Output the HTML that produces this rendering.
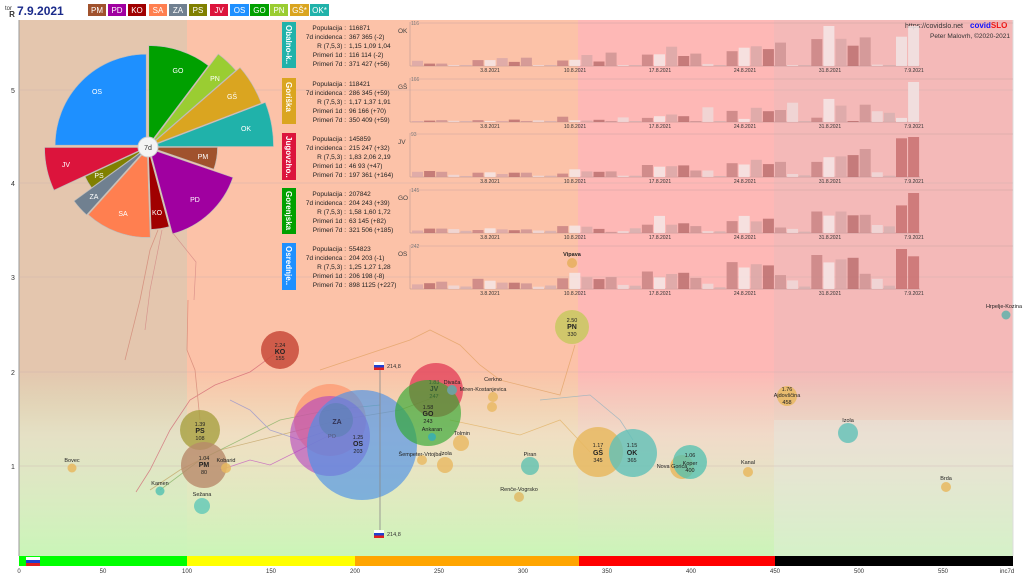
<!DOCTYPE html>
<html><head><meta charset="utf-8"><style>
html,body{margin:0;padding:0;background:#fff;width:1024px;height:576px;overflow:hidden}
svg{display:block;font-family:"Liberation Sans",sans-serif}
</style></head><body>
<svg id="s" width="1024" height="576" viewBox="0 0 1024 576" xmlns="http://www.w3.org/2000/svg">
<defs>
<linearGradient id="gr" x1="0" y1="0" x2="0" y2="1">
<stop offset="0" stop-color="#d8fcc8" stop-opacity="0"/>
<stop offset="0.35" stop-color="#e6f6d8" stop-opacity="0.55"/>
<stop offset="1" stop-color="#c8f8b8" stop-opacity="0.95"/>
</linearGradient>
</defs>
<rect x="0" y="0" width="1024" height="576" fill="#fff"/>
<rect x="19" y="20" width="168" height="536" fill="#e4c6ae"/>
<rect x="187" y="20" width="391" height="536" fill="#fcc2a8"/>
<rect x="578" y="20" width="196" height="536" fill="#feb8b6"/>
<rect x="774" y="20" width="239" height="536" fill="#f4b9b8"/>
<rect x="19" y="370" width="994" height="186" fill="url(#gr)"/>
<rect x="774" y="420" width="239" height="136" fill="#e8ece4" opacity="0.35"/>
<line x1="19" y1="20" x2="19" y2="556" stroke="#999" stroke-width="1"/>
<line x1="1013" y1="20" x2="1013" y2="556" stroke="#ddd"/>
<g stroke="#c8b0b0" stroke-width="0.6" opacity="0.7">
<line x1="19" y1="90" x2="1013" y2="90"/><line x1="19" y1="183" x2="1013" y2="183"/>
<line x1="19" y1="277" x2="1013" y2="277"/><line x1="19" y1="372" x2="1013" y2="372"/>
<line x1="19" y1="466" x2="1013" y2="466"/>
</g>
<g font-size="7" fill="#333" text-anchor="middle">
<text x="12" y="17" font-size="8" font-weight="bold">R</text>
<text x="13" y="93">5</text><text x="13" y="186">4</text><text x="13" y="280">3</text><text x="13" y="375">2</text><text x="13" y="469">1</text>
</g>
<text x="5" y="10" font-size="6" fill="#333">tor</text>
<text x="17" y="15" font-size="12" font-weight="bold" fill="#1a2a8a">7.9.2021</text>
<g font-size="8" fill="#fff" text-anchor="middle">
<rect x="88" y="4" width="18" height="12" fill="#a0522d"/><text x="97" y="13">PM</text>
<rect x="108" y="4" width="18" height="12" fill="#a000a0"/><text x="117" y="13">PD</text>
<rect x="128" y="4" width="18" height="12" fill="#a00000"/><text x="137" y="13">KO</text>
<rect x="149" y="4" width="18" height="12" fill="#ff7f50"/><text x="158" y="13">SA</text>
<rect x="169" y="4" width="18" height="12" fill="#708090"/><text x="178" y="13">ZA</text>
<rect x="189" y="4" width="18" height="12" fill="#808000"/><text x="198" y="13">PS</text>
<rect x="210" y="4" width="18" height="12" fill="#dc143c"/><text x="219" y="13">JV</text>
<rect x="230" y="4" width="19" height="12" fill="#1e90ff"/><text x="239.5" y="13">OS</text>
<rect x="250" y="4" width="19" height="12" fill="#00a000"/><text x="259.5" y="13">GO</text>
<rect x="270" y="4" width="18" height="12" fill="#9acd32"/><text x="279" y="13">PN</text>
<rect x="290" y="4" width="19" height="12" fill="#daa520"/><text x="299.5" y="13">GŠ*</text>
<rect x="310" y="4" width="19" height="12" fill="#20b2aa"/><text x="319.5" y="13">OK*</text>
</g>
<text x="905" y="28" font-size="7" fill="#333">https://covidslo.net</text>
<text x="970" y="28" font-size="8" font-weight="bold" fill="#1010ff">covid<tspan fill="#f01010">SLO</tspan></text>
<text x="1010" y="38" font-size="6.5" fill="#333" text-anchor="end">Peter Malovrh, ©2020-2021</text>

<g fill="none" stroke-width="0.8" opacity="0.7">
<polyline stroke="#d06070" points="136,492 150,470 170,430 190,400 215,385 250,372 280,350"/>
<polyline stroke="#d08070" points="125,360 140,300 150,250 158,230"/>
<polyline stroke="#d08070" points="188,300 187,350 195,370 200,420"/>
<polyline stroke="#c0a060" points="150,490 180,470 220,450 260,440 300,430 340,420 400,410 440,395"/>
<polyline stroke="#80b060" points="160,490 200,460 240,440 280,420 330,410 380,405"/>
<polyline stroke="#9090d0" points="230,400 250,410 270,430 300,440 330,430"/>
<polyline stroke="#c050c0" points="220,470 250,460 270,465 300,450 330,435"/>
<polyline stroke="#e0a060" points="320,370 410,340 430,330 460,345 480,365 500,380 560,395 575,345"/>
<polyline stroke="#8ab0c0" points="540,400 590,395 620,420 633,440"/>
<polyline stroke="#e0b060" points="450,420 520,435 560,420 590,452"/>
</g>

<g>
<circle cx="280" cy="350" r="19" fill="#c84a3a" opacity="0.85"/>
<circle cx="572" cy="327" r="17" fill="#c8c860" opacity="0.85"/>
<circle cx="572" cy="263" r="5" fill="#e8b060" opacity="0.9"/>
<circle cx="1006" cy="315" r="4.5" fill="#40b0a8" opacity="0.7"/>
<circle cx="330" cy="420" r="36" fill="#ff8c60" opacity="0.6"/>
<circle cx="330" cy="436" r="40" fill="#b040c0" opacity="0.6"/>
<circle cx="362" cy="445" r="55" fill="#4a90e8" opacity="0.65"/>
<circle cx="336" cy="420" r="17" fill="#5a80b0" opacity="0.6"/>
<circle cx="436" cy="390" r="27" fill="#e03050" opacity="0.7"/>
<circle cx="428" cy="413" r="33" fill="#30a830" opacity="0.65"/>
<circle cx="452" cy="390" r="5" fill="#70a0a0"/>
<circle cx="432" cy="437" r="4" fill="#40b0a8"/>
<circle cx="493" cy="397" r="5" fill="#e8b860" opacity="0.8"/>
<circle cx="492" cy="407" r="5" fill="#e8b860" opacity="0.8"/>
<circle cx="461" cy="443" r="8" fill="#e8b860" opacity="0.8"/>
<circle cx="422" cy="460" r="5" fill="#e8b860" opacity="0.8"/>
<circle cx="445" cy="465" r="8" fill="#e8b860" opacity="0.8"/>
<circle cx="530" cy="466" r="9" fill="#60c0b0" opacity="0.8"/>
<circle cx="519" cy="497" r="5" fill="#e0b860" opacity="0.8"/>
<circle cx="200" cy="430" r="20" fill="#a8a040" opacity="0.8"/>
<circle cx="204" cy="465" r="23" fill="#b88a6a" opacity="0.8"/>
<circle cx="226" cy="468" r="5" fill="#e8b860" opacity="0.85"/>
<circle cx="72" cy="468" r="4.5" fill="#e8b860" opacity="0.85"/>
<circle cx="160" cy="491" r="4.5" fill="#50c0b0" opacity="0.8"/>
<circle cx="202" cy="506" r="8" fill="#60c8b8" opacity="0.8"/>
<circle cx="598" cy="452" r="25" fill="#e8b860" opacity="0.85"/>
<circle cx="633" cy="453" r="24" fill="#60c0b8" opacity="0.8"/>
<circle cx="682" cy="467" r="12" fill="#e8b860" opacity="0.85"/>
<circle cx="690" cy="462" r="17" fill="#50c0b0" opacity="0.75"/>
<circle cx="748" cy="472" r="5" fill="#e8b860" opacity="0.85"/>
<circle cx="787" cy="396" r="10" fill="#e8b860" opacity="0.85"/>
<circle cx="848" cy="433" r="10" fill="#60c0b8" opacity="0.8"/>
<circle cx="946" cy="487" r="5" fill="#e8b860" opacity="0.85"/>
</g>
<line x1="380" y1="366" x2="380" y2="533" stroke="#888" stroke-width="0.8"/>
<rect x="374" y="362" width="10" height="3" fill="#fff"/><rect x="374" y="365" width="10" height="2.5" fill="#2040d0"/><rect x="374" y="367.5" width="10" height="2.5" fill="#e02020"/>
<rect x="374" y="530" width="10" height="3" fill="#fff"/><rect x="374" y="533" width="10" height="2.5" fill="#2040d0"/><rect x="374" y="535.5" width="10" height="2.5" fill="#e02020"/>
<g font-size="5.5" fill="#333">
<text x="387" y="368">214,8</text><text x="387" y="536">214,8</text>
</g>
<g font-size="5.5" fill="#222" text-anchor="middle">
<text x="280" y="347">2.24</text><text x="280" y="354" font-size="7" font-weight="bold">KO</text><text x="280" y="360">155</text>
<text x="572" y="322">2.50</text><text x="572" y="329" font-size="7" font-weight="bold">PN</text><text x="572" y="336">330</text>
<text x="572" y="256" font-weight="bold">Vipava</text>
<text x="200" y="426">1.39</text><text x="200" y="433" font-size="7" font-weight="bold">PS</text><text x="200" y="440">108</text>
<text x="204" y="460">1.04</text><text x="204" y="467" font-size="7" font-weight="bold">PM</text><text x="204" y="474">80</text>
<text x="598" y="447">1.17</text><text x="598" y="455" font-size="7" font-weight="bold">GŠ</text><text x="598" y="462">345</text>
<text x="632" y="447">1.15</text><text x="632" y="455" font-size="7" font-weight="bold">OK</text><text x="632" y="462">365</text>
<text x="690" y="457">1.06</text><text x="690" y="465">Koper</text><text x="690" y="472">400</text>
<text x="672" y="468">Nova Gorica</text>
<text x="337" y="424" font-size="7" font-weight="bold" fill="#335">ZA</text><text x="332" y="438" fill="#557">PO</text>
<text x="358" y="439">1.25</text><text x="358" y="446" font-size="7" font-weight="bold">OS</text><text x="358" y="453">203</text>
<text x="434" y="384" fill="#363">1.83</text><text x="434" y="391" font-size="7" font-weight="bold" fill="#353">JV</text><text x="434" y="398" fill="#363">247</text>
<text x="428" y="409">1.58</text><text x="428" y="416" font-size="7" font-weight="bold">GO</text><text x="428" y="423">243</text>
<text x="452" y="384">Divača</text><text x="493" y="381">Cerkno</text><text x="483" y="391">Miren-Kostanjevica</text>
<text x="432" y="431">Ankaran</text><text x="462" y="435">Tolmin</text><text x="420" y="456">Šempeter-Vrtojba</text><text x="446" y="455">Izola</text>
<text x="530" y="456">Piran</text><text x="519" y="491">Renče-Vogrsko</text>
<text x="787" y="391">1.76</text><text x="787" y="397">Ajdovščina</text><text x="787" y="404">458</text>
<text x="848" y="422">Izola</text><text x="748" y="464">Kanal</text><text x="946" y="480">Brda</text>
<text x="1004" y="308">Hrpelje-Kozina</text>
<text x="72" y="462">Bovec</text><text x="226" y="462">Kobarid</text><text x="160" y="485">Kamen</text><text x="202" y="496">Sežana</text>
</g>

<g id="pie" stroke="#bbb" stroke-width="0.6"></g>
<circle cx="148" cy="147" r="10" fill="#f4f4f4" stroke="#ccc"/>
<text x="148" y="150" font-size="7" text-anchor="middle" fill="#333">7d</text>
<g font-size="7" fill="#fff" text-anchor="middle">
<text x="97" y="94">OS</text><text x="178" y="73">GO</text><text x="215" y="81">PN</text><text x="232" y="99">GŠ</text>
<text x="246" y="131">OK</text><text x="203" y="159">PM</text><text x="195" y="202">PD</text><text x="157" y="215">KO</text>
<text x="123" y="216">SA</text><text x="94" y="199">ZA</text><text x="99" y="178">PS</text><text x="66" y="167">JV</text>
</g>
<g fill="none" stroke="#d08080" stroke-width="0.7" opacity="0.7">
<polyline points="162,230 150,290 145,330"/><polyline points="172,232 196,262 194,300"/>
</g>

<g font-size="8" fill="#fff" font-weight="bold">
<rect x="282" y="22" width="14" height="46" fill="#20b2aa"/><text transform="translate(286,25) rotate(90)">Obalno-k..</text>
<rect x="282" y="78" width="14" height="46" fill="#daa520"/><text transform="translate(286,82) rotate(90)">Goriška</text>
<rect x="282" y="133" width="14" height="47" fill="#dc143c"/><text transform="translate(286,136) rotate(90)">Jugovzho..</text>
<rect x="282" y="188" width="14" height="46" fill="#00a000"/><text transform="translate(286,191) rotate(90)">Gorenjska</text>
<rect x="282" y="243" width="14" height="47" fill="#1e90ff"/><text transform="translate(286,246) rotate(90)">Osrednje..</text>
</g>
<g font-size="6.5" fill="#222">
<g text-anchor="end">
<text x="346" y="30">Populacija :</text><text x="346" y="39">7d incidenca :</text><text x="346" y="48">R (7,5,3) :</text><text x="346" y="57">Primeri 1d :</text><text x="346" y="66">Primeri 7d :</text>
<text x="346" y="86">Populacija :</text><text x="346" y="95">7d incidenca :</text><text x="346" y="104">R (7,5,3) :</text><text x="346" y="113">Primeri 1d :</text><text x="346" y="122">Primeri 7d :</text>
<text x="346" y="141">Populacija :</text><text x="346" y="150">7d incidenca :</text><text x="346" y="159">R (7,5,3) :</text><text x="346" y="168">Primeri 1d :</text><text x="346" y="177">Primeri 7d :</text>
<text x="346" y="196">Populacija :</text><text x="346" y="205">7d incidenca :</text><text x="346" y="214">R (7,5,3) :</text><text x="346" y="223">Primeri 1d :</text><text x="346" y="232">Primeri 7d :</text>
<text x="346" y="251">Populacija :</text><text x="346" y="260">7d incidenca :</text><text x="346" y="269">R (7,5,3) :</text><text x="346" y="278">Primeri 1d :</text><text x="346" y="287">Primeri 7d :</text>
</g>
<text x="349" y="30">116871</text><text x="349" y="39">367 365 (-2)</text><text x="349" y="48">1,15 1,09 1,04</text><text x="349" y="57">116 114 (-2)</text><text x="349" y="66">371 427 (+56)</text>
<text x="349" y="86">118421</text><text x="349" y="95">286 345 (+59)</text><text x="349" y="104">1,17 1,37 1,91</text><text x="349" y="113">96 166 (+70)</text><text x="349" y="122">350 409 (+59)</text>
<text x="349" y="141">145859</text><text x="349" y="150">215 247 (+32)</text><text x="349" y="159">1,83 2,06 2,19</text><text x="349" y="168">46 93 (+47)</text><text x="349" y="177">197 361 (+164)</text>
<text x="349" y="196">207842</text><text x="349" y="205">204 243 (+39)</text><text x="349" y="214">1,58 1,60 1,72</text><text x="349" y="223">63 145 (+82)</text><text x="349" y="232">321 506 (+185)</text>
<text x="349" y="251">554823</text><text x="349" y="260">204 203 (-1)</text><text x="349" y="269">1,25 1,27 1,28</text><text x="349" y="278">206 198 (-8)</text><text x="349" y="287">898 1125 (+227)</text>
</g>
<g font-size="6.5" fill="#444">
<text x="398" y="33">OK</text><text x="398" y="89">GŠ</text><text x="398" y="144">JV</text><text x="398" y="200">GO</text><text x="398" y="256">OS</text>
</g>
<g font-size="5" fill="#777">
<text x="411" y="25">116</text><text x="411" y="81">166</text><text x="411" y="136">93</text><text x="411" y="192">145</text><text x="411" y="248">242</text>
</g>
<g id="bars"></g>
<g font-size="5" fill="#333" text-anchor="middle">
<text x="490" y="72">3.8.2021</text><text x="575" y="72">10.8.2021</text><text x="660" y="72">17.8.2021</text><text x="745" y="72">24.8.2021</text><text x="830" y="72">31.8.2021</text><text x="914" y="72">7.9.2021</text>
<text x="490" y="128">3.8.2021</text><text x="575" y="128">10.8.2021</text><text x="660" y="128">17.8.2021</text><text x="745" y="128">24.8.2021</text><text x="830" y="128">31.8.2021</text><text x="914" y="128">7.9.2021</text>
<text x="490" y="183">3.8.2021</text><text x="575" y="183">10.8.2021</text><text x="660" y="183">17.8.2021</text><text x="745" y="183">24.8.2021</text><text x="830" y="183">31.8.2021</text><text x="914" y="183">7.9.2021</text>
<text x="490" y="239">3.8.2021</text><text x="575" y="239">10.8.2021</text><text x="660" y="239">17.8.2021</text><text x="745" y="239">24.8.2021</text><text x="830" y="239">31.8.2021</text><text x="914" y="239">7.9.2021</text>
<text x="490" y="295">3.8.2021</text><text x="575" y="295">10.8.2021</text><text x="660" y="295">17.8.2021</text><text x="745" y="295">24.8.2021</text><text x="830" y="295">31.8.2021</text><text x="914" y="295">7.9.2021</text>
</g>

<rect x="19" y="556" width="168" height="10" fill="#00ff00"/>
<rect x="187" y="556" width="168" height="10" fill="#ffff00"/>
<rect x="355" y="556" width="224" height="10" fill="#ffa500"/>
<rect x="579" y="556" width="196" height="10" fill="#ff0000"/>
<rect x="775" y="556" width="238" height="10" fill="#000"/>
<rect x="26" y="557" width="14" height="3" fill="#fff"/><rect x="26" y="560" width="14" height="3" fill="#2040d0"/><rect x="26" y="563" width="14" height="3" fill="#e02020"/>
<g font-size="6" fill="#333" text-anchor="middle">
<text x="19" y="573">0</text><text x="103" y="573">50</text><text x="187" y="573">100</text><text x="271" y="573">150</text><text x="355" y="573">200</text><text x="439" y="573">250</text><text x="523" y="573">300</text><text x="607" y="573">350</text><text x="691" y="573">400</text><text x="775" y="573">450</text><text x="859" y="573">500</text><text x="943" y="573">550</text><text x="1007" y="573">inc7d</text>
</g>
</svg>
<script>
(function(){
var NS="http://www.w3.org/2000/svg";
function el(t,a,p){var e=document.createElementNS(NS,t);for(var k in a)e.setAttribute(k,a[k]);p.appendChild(e);return e;}
var pie=document.getElementById("pie");
var W=[["#1e90ff",270,360,93],["#00a000",0,37,101],["#9acd32",37,49,116],["#daa520",49,69,121],["#20b2aa",69,90,125],
["#a0522d",90,109,69],["#a000a0",109,165,90],["#a00000",165,178,82],["#ff7f50",178,222,90],["#708090",222,234,91],["#808000",234,245,69],["#dc143c",245,270,103]];
W.forEach(function(w){var m=((w[1]+w[2])/2-90)*Math.PI/180,cx=148+2.5*Math.cos(m),cy=147+2.5*Math.sin(m);
var a0=(w[1]-90)*Math.PI/180,a1=(w[2]-90)*Math.PI/180,r=w[3]-2;
var d="M"+cx.toFixed(1)+","+cy.toFixed(1)+"L"+(cx+r*Math.cos(a0)).toFixed(1)+","+(cy+r*Math.sin(a0)).toFixed(1)+"A"+r+","+r+" 0 0 1 "+(cx+r*Math.cos(a1)).toFixed(1)+","+(cy+r*Math.sin(a1)).toFixed(1)+"Z";
el("path",{d:d,fill:w[0]},pie);});
var R=[[15,7,7,1,0,17,17,23,12,24,1,2,16,18,32,13,39,0,0,33,34,56,29,36,6,2,43,53,57,49,68,3,0,78,116,79,59,83,4,3,85,116],
[1,6,8,5,0,8,0,4,10,0,7,0,22,7,6,9,3,19,1,17,24,31,24,2,61,2,46,13,59,45,50,80,2,18,96,68,3,72,45,38,17,166],
[12,14,12,5,1,10,11,7,10,10,3,3,8,18,13,12,13,3,3,28,24,25,27,15,15,2,32,29,40,30,35,7,4,35,46,48,51,65,11,3,90,93],
[9,16,16,14,8,11,17,13,10,13,9,8,25,27,23,15,4,7,17,30,62,30,35,25,7,6,43,62,42,52,20,15,5,78,63,78,64,66,29,24,100,145],
[28,35,44,21,15,62,50,39,38,34,14,21,65,98,71,60,72,25,20,106,70,91,98,67,32,10,163,130,150,143,84,52,15,206,161,179,189,92,62,20,242,198]];
var tops=[22,78,133,189,245],bars=document.getElementById("bars");
var C=["#dba8a8","#c98484","#efd8d8","#bc7070","#f4e6e6","#d6b0b0","#cf9494"];
R.forEach(function(v,ri){var top=tops[ri],base=top+44,mx=Math.max.apply(null,v);
el("line",{x1:410,y1:base,x2:920,y2:base,stroke:"#b09090","stroke-width":0.6},bars);
el("line",{x1:410,y1:top+1,x2:1013,y2:top+1,stroke:"#c0a0a0","stroke-width":0.4},bars);
el("line",{x1:410,y1:top,x2:410,y2:base,stroke:"#b09090","stroke-width":0.5},bars);
v.forEach(function(x,i){var h=Math.max(1,x/mx*40);var c=C[(x*7+i*3)%7];if(i>=40)c=(ri<2?"#f0e4e4":"#c87070");
el("rect",{x:(412+i*12.1).toFixed(1),y:(base-h).toFixed(1),width:11,height:h.toFixed(1),fill:c,opacity:0.85},bars);});
});
})();
</script>
</body></html>
